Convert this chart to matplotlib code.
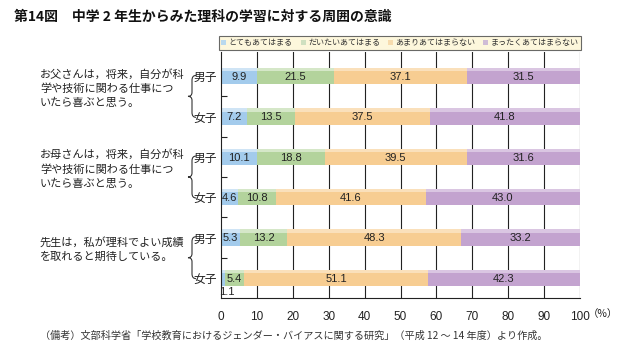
import matplotlib
matplotlib.use("Agg")
import matplotlib.pyplot as plt
import numpy as np
from matplotlib.path import Path
from matplotlib.patches import PathPatch, Patch
from matplotlib.transforms import blended_transform_factory

plt.rcParams["font.family"] = ["Noto Sans CJK JP", "DejaVu Sans"]

W, H = 619, 349

# ── data ──────────────────────────────────────────────────────────────────────
groups = [
    "お父さんは，将来，自分が科\n学や技術に関わる仕事につ\nいたら喜ぶと思う。",
    "お母さんは，将来，自分が科\n学や技術に関わる仕事につ\nいたら喜ぶと思う。",
    "先生は，私が理科でよい成績\nを取れると期待している。",
]
genders = ["男子", "女子"]
row_labels = genders * len(groups)

answers = ["とてもあてはまる", "だいたいあてはまる", "あまりあてはまらない", "まったくあてはまらない"]
very       = [9.9, 7.2, 10.1, 4.6, 5.3, 1.1]
mostly     = [21.5, 13.5, 18.8, 10.8, 13.2, 5.4]
not_much   = [37.1, 37.5, 39.5, 41.6, 48.3, 51.1]
not_at_all = [31.5, 41.8, 31.6, 43.0, 33.2, 42.3]
series = [very, mostly, not_much, not_at_all]

xticks = list(range(0, 101, 10))

colors    = ["#a3cbec", "#b3d39c", "#f7cd92", "#c3a3cf"]
highlight = ["#cfe4f5", "#d5e7c8", "#fae0bb", "#dac6e2"]
legend_colors = ["#b9d9ee", "#cfe0c0", "#f7dcae", "#cfbcd6"]

# ── figure ────────────────────────────────────────────────────────────────────
fig = plt.figure(figsize=(W / 100, H / 100), dpi=100)
ax = fig.add_axes([221 / W, 1 - 298 / H, (580 - 221) / W, (298 - 52) / H])

num_font = ["Liberation Sans", "DejaVu Sans"]
y = np.arange(len(row_labels))
bar_h = 0.4
left = np.zeros(len(row_labels))
for vals, c, hc, name in zip(series, colors, highlight, answers):
    vals = np.array(vals)
    ax.barh(y, vals, height=bar_h, left=left, color=c, linewidth=0, zorder=2, label=name)
    # light band along the top edge of each segment
    ax.barh(y - bar_h / 2 + 0.04, vals, height=0.08, left=left, color=hc, linewidth=0, zorder=2.1)
    for yi, lft, v in zip(y, left, vals):
        if v < 2:
            # too narrow: label sits under the bar
            ax.text(lft + v / 2 + 1.1, yi + 0.34, f"{v:.1f}", ha="center", va="center",
                    fontsize=8, color="#222", family=num_font, zorder=3)
        else:
            ax.text(lft + v / 2, yi + 0.02, f"{v:.1f}", ha="center", va="center",
                    fontsize=8, color="#222", family=num_font, zorder=3)
    left = left + vals

ax.set_xlim(0, 100)
ax.set_ylim(5.5, -0.6)
ax.set_xticks(xticks)
ax.set_xticklabels([str(t) for t in xticks], family=num_font, fontsize=8.5)
ax.tick_params(axis="x", length=0, pad=9, colors="#222")
for t in xticks[1:]:
    ax.axvline(t, color="#222", lw=0.8, zorder=1)

ax.set_yticks(y)
ax.set_yticklabels(row_labels, fontsize=8.5)
ax.tick_params(axis="y", which="major", length=0, pad=3, colors="#222")
ax.set_yticks(np.arange(0.5, 5, 1), minor=True)
ax.tick_params(axis="y", which="minor", direction="in", length=4, width=0.8, color="#222")

for s in ["top", "right"]:
    ax.spines[s].set_visible(False)
for s in ["left", "bottom"]:
    ax.spines[s].set_linewidth(0.8)
    ax.spines[s].set_color("#222")

fig.text(588 / W, 1 - 314 / H, "（%）", fontsize=7.5, ha="left", va="center", color="#222")

# group captions and braces
trans = blended_transform_factory(fig.transFigure, ax.transData)
for gi, caption in enumerate(groups):
    y0 = 2 * gi
    fig.text(40 / W, y0 + 0.3, caption, transform=trans, fontsize=8, ha="left", va="center",
             linespacing=1.45, color="#222")
    xr, xm, xt = 196 / W, 192 / W, 188 / W
    verts = [(xr, y0 - 0.02), (xm, y0 - 0.02), (xm, y0 + 0.1),
             (xm, y0 + 0.4),
             (xm, y0 + 0.5), (xt, y0 + 0.5),
             (xm, y0 + 0.5), (xm, y0 + 0.6),
             (xm, y0 + 0.9),
             (xm, y0 + 1.02), (xr, y0 + 1.02)]
    codes = [Path.MOVETO, Path.CURVE3, Path.CURVE3, Path.LINETO,
             Path.CURVE3, Path.CURVE3, Path.CURVE3, Path.CURVE3,
             Path.LINETO, Path.CURVE3, Path.CURVE3]
    fig.add_artist(PathPatch(Path(verts, codes), transform=trans, fill=False,
                             lw=0.8, edgecolor="#333", clip_on=False))

# legend
handles = [Patch(facecolor=c, edgecolor="none") for c in legend_colors]
leg = fig.legend(handles, answers, loc="center", bbox_to_anchor=(400 / W, 1 - 43 / H),
                 ncol=4, fontsize=5.8, handlelength=0.6, handleheight=0.6,
                 handletextpad=0.3, columnspacing=1.0, borderpad=0.35,
                 frameon=True, fancybox=False)
leg.get_frame().set_facecolor("#fdf6d4")
leg.get_frame().set_edgecolor("#444")
leg.get_frame().set_linewidth(0.8)
for t in leg.get_texts():
    t.set_color("#333")

fig.text(14 / W, 1 - 17 / H, "第14図　中学 2 年生からみた理科の学習に対する周囲の意識",
         fontsize=10, fontweight="bold", ha="left", va="center", color="#111")
fig.text(40 / W, 1 - 336 / H,
         "（備考）文部科学省「学校教育におけるジェンダー・バイアスに関する研究」（平成 12 ～ 14 年度）より作成。",
         fontsize=7.3, ha="left", va="center", color="#333")

fig.savefig("out.png", dpi=100)
